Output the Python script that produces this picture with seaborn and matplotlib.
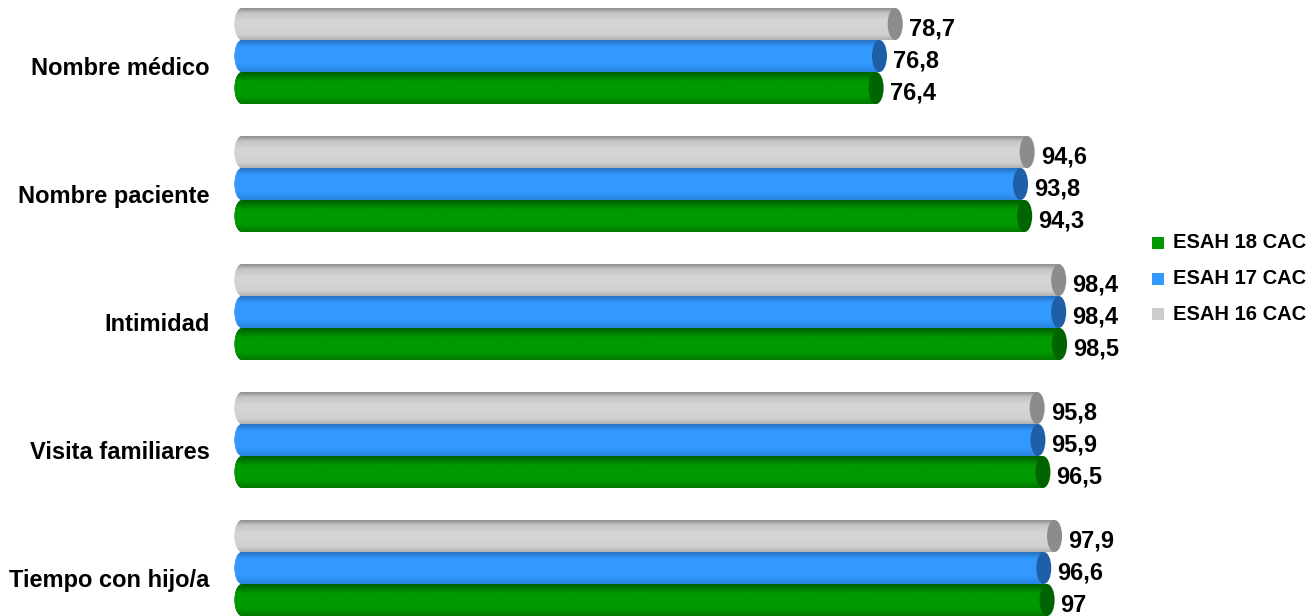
import numpy as np
import pandas as pd
import matplotlib
matplotlib.use("Agg")
import matplotlib.pyplot as plt
import seaborn as sns
from matplotlib.patches import Ellipse, Rectangle
from matplotlib.colors import LinearSegmentedColormap
from matplotlib.transforms import ScaledTranslation

# ---- data ----
categories = ["Nombre médico", "Nombre paciente", "Intimidad", "Visita familiares", "Tiempo con hijo/a"]
series_names = ["ESAH 16 CAC", "ESAH 17 CAC", "ESAH 18 CAC"]
esah16 = [78.7, 94.6, 98.4, 95.8, 97.9]
esah17 = [76.8, 93.8, 98.4, 95.9, 96.6]
esah18 = [76.4, 94.3, 98.5, 96.5, 97.0]

df = pd.DataFrame({
    "category": categories * 3,
    "series": [series_names[0]] * 5 + [series_names[1]] * 5 + [series_names[2]] * 5,
    "value": esah16 + esah17 + esah18,
})

body = {"ESAH 16 CAC": "#d4d4d4", "ESAH 17 CAC": "#3399ff", "ESAH 18 CAC": "#009900"}
endc = {"ESAH 16 CAC": "#8c8c8c", "ESAH 17 CAC": "#1f5fa8", "ESAH 18 CAC": "#006400"}
grads = {
    "ESAH 16 CAC": [(0, "#8f8f8f"), (0.15, "#c4c4c4"), (0.4, "#d6d6d6"), (0.85, "#d0d0d0"), (1, "#b0b0b0")],
    "ESAH 17 CAC": [(0, "#2670c0"), (0.2, "#3399ff"), (0.75, "#3399ff"), (1, "#2a85e0")],
    "ESAH 18 CAC": [(0, "#006000"), (0.3, "#009900"), (0.75, "#009900"), (1, "#007a00")],
}

sns.set_theme(style="white")
plt.rcParams["font.family"] = ["Liberation Sans", "DejaVu Sans"]

W, H = 1316, 616
fig = plt.figure(figsize=(W / 100, H / 100), dpi=100)
x0_px = 242          # pixel position of value 0
ax_left_px = 222     # axes left edge (leaves room for rounded left ends)
px_per_unit = 8.3
ax = fig.add_axes([ax_left_px / W, 0, (W - ax_left_px) / W, 1])

sns.barplot(data=df, x="value", y="category", hue="series", hue_order=series_names,
            order=categories, orient="h", width=0.75, palette=body, legend=False,
            ax=ax, saturation=1)

xmin = -(x0_px - ax_left_px) / px_per_unit
xmax = (W - x0_px) / px_per_unit
ymin, ymax = 4.375, -0.4375
ellw = 15 / px_per_unit

for name, cont in zip(series_names, ax.containers):
    cmap = LinearSegmentedColormap.from_list(name, grads[name])
    grad = cmap(np.linspace(0, 1, 64))[:, None, :]
    for patch in cont.patches:
        x, y = patch.get_x(), patch.get_y()
        w, h = patch.get_width(), patch.get_height()
        patch.set_linewidth(0)
        patch.set_zorder(2)
        # left rounded end
        le = Ellipse((x, y + h / 2), ellw, h, facecolor=body[name], lw=0, zorder=1.9)
        ax.add_patch(le)
        im = ax.imshow(grad, extent=(x - ellw, x + w, y + h, y), aspect="auto",
                       origin="upper", zorder=2.1, interpolation="bilinear")
        im.set_clip_path(le)
        im2 = ax.imshow(grad, extent=(x, x + w, y + h, y), aspect="auto",
                        origin="upper", zorder=2.2, interpolation="bilinear")
        im2.set_clip_path(patch)
        # right end cap
        re = Ellipse((x + w, y + h / 2), ellw, h, facecolor=endc[name], lw=0, zorder=3)
        ax.add_patch(re)
        lab = f"{w:.1f}".rstrip("0").rstrip(".").replace(".", ",")
        ax.text(x + w + ellw / 2 + 6 / px_per_unit, y + h / 2 + 5 / 128, lab,
                ha="left", va="center", fontsize=17, fontweight="bold", color="black", zorder=4)

ax.set_xlim(xmin, xmax)
ax.set_ylim(ymin, ymax)
ax.set_xlabel("")
ax.set_ylabel("")
ax.set_xticks([])
for s in ax.spines.values():
    s.set_visible(False)
ax.tick_params(axis="y", length=0, pad=9)
offset = ScaledTranslation(0, -10 / 100, fig.dpi_scale_trans)
for t in ax.get_yticklabels():
    t.set_fontsize(17)
    t.set_fontweight("bold")
    t.set_color("black")
    t.set_transform(t.get_transform() + offset)
ax.set_facecolor("white")

# legend (reversed order, as in reference)
leg_items = [("ESAH 18 CAC", 243), ("ESAH 17 CAC", 278.5), ("ESAH 16 CAC", 314)]
for name, yc in leg_items:
    fig.add_artist(Rectangle(((1152) / W, 1 - (yc + 6) / H), 12 / W, 12 / H,
                             transform=fig.transFigure, facecolor=body[name] if name != "ESAH 16 CAC" else "#cccccc",
                             lw=0))
    fig.text(1173 / W, 1 - yc / H, name, ha="left", va="center", fontsize=14.5,
             fontweight="bold", color="black")

fig.savefig("out.png", dpi=100, facecolor="white")
